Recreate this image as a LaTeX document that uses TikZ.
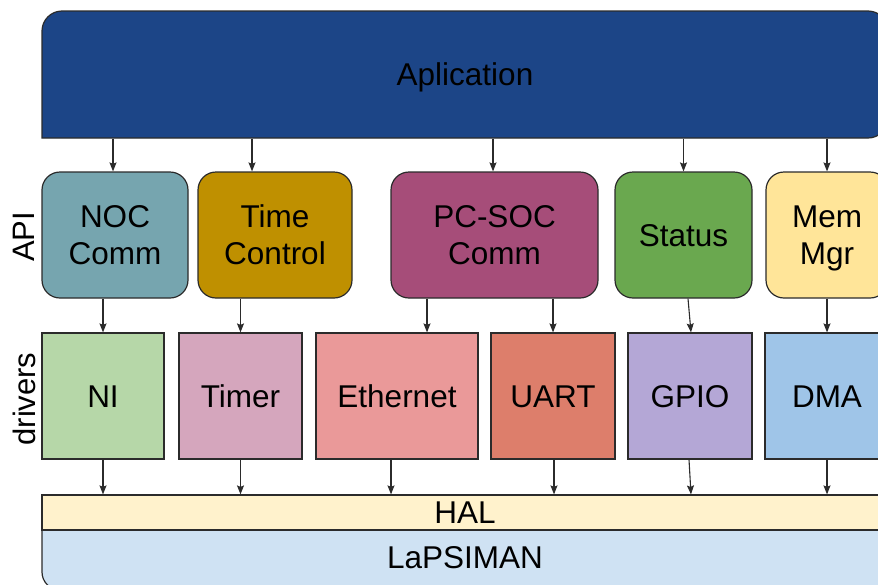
\documentclass[tikz,border=0pt]{standalone}
\usepackage{fontspec}
\setmainfont{Liberation Sans}
\usetikzlibrary{arrows.meta,calc}

\definecolor{edge}{HTML}{2B2B2B}
\definecolor{appc}{HTML}{1C4587}
\definecolor{nocc}{HTML}{76A5AF}
\definecolor{timec}{HTML}{BF9000}
\definecolor{pcsocc}{HTML}{A64D79}
\definecolor{statusc}{HTML}{6AA84F}
\definecolor{memc}{HTML}{FFE599}
\definecolor{nic}{HTML}{B6D7A8}
\definecolor{timerc}{HTML}{D5A6BD}
\definecolor{ethc}{HTML}{EA9999}
\definecolor{uartc}{HTML}{DD7E6B}
\definecolor{gpioc}{HTML}{B4A7D6}
\definecolor{dmac}{HTML}{9FC5E8}
\definecolor{halc}{HTML}{FFF2CC}
\definecolor{lapc}{HTML}{CFE2F3}

\begin{document}
\begin{tikzpicture}[x=1pt,y=-1pt,
  % caps are centred in each box: box height = cap height, no depth
  layer/.style={draw=edge,line width=1.2pt,inner sep=0pt,align=center,
    font=\fontsize{31.5}{37}\selectfont,text=black,
    text height=22.5pt,text depth=0pt},
  % two lines: from the first line's cap top to the last baseline
  twoline/.style={text height=59.5pt,text depth=0pt},
  apibox/.style={layer,rounded corners=18pt,minimum height=126pt},
  drvbox/.style={layer,minimum height=126pt},
  sidelabel/.style={font=\fontsize{31}{36}\selectfont,rotate=90,inner sep=0pt},
  arr/.style={draw=edge,line width=1.1pt,-{Stealth[length=9pt,width=7pt,inset=1.5pt]}}
]
\useasboundingbox (0,0) rectangle (878,584);
\clip (0,0) rectangle (878,584);

% application layer: square lower-left corner, the others rounded
\filldraw[fill=appc,draw=edge,line width=1.2pt]
  (42,138) -- (42,31) arc[start angle=180,end angle=270,radius=20]
  -- (868,11) arc[start angle=270,end angle=360,radius=20]
  -- (888,118) arc[start angle=0,end angle=90,radius=20] -- cycle;
\node[layer,draw=none,minimum width=846pt,minimum height=127pt] (app) at (465,74.5) {Aplication};

% API layer
\node[apibox,twoline,fill=nocc,minimum width=146pt]    (noc)     at (115,235)   {NOC\\Comm};
\node[apibox,twoline,fill=timec,minimum width=154pt]   (timectl) at (275,235)   {Time\\Control};
\node[apibox,twoline,fill=pcsocc,minimum width=207pt]  (pcsoc)   at (494.5,235) {PC-SOC\\Comm};
\node[apibox,fill=statusc,minimum width=137pt]         (status)  at (683.5,235) {Status};
\node[apibox,twoline,fill=memc,minimum width=122pt]    (memmgr)  at (827,235)   {Mem\\Mgr};

% drivers layer
\node[drvbox,fill=nic,minimum width=122pt]    (ni)    at (103,396)   {NI};
\node[drvbox,fill=timerc,minimum width=123pt] (timer) at (240.5,396) {Timer};
\node[drvbox,fill=ethc,minimum width=162pt]   (eth)   at (397,396)   {Ethernet};
\node[drvbox,fill=uartc,minimum width=124pt]  (uart)  at (553,396)   {UART};
\node[drvbox,fill=gpioc,minimum width=124pt]  (gpio)  at (690,396)   {GPIO};
\node[drvbox,fill=dmac,minimum width=124pt]   (dma)   at (827,396)   {DMA};

% platform: LaPSIMAN base with the HAL strip on top
\filldraw[fill=lapc,draw=edge,line width=1.2pt]
  (42,530) -- (42,572) arc[start angle=180,end angle=90,radius=18]
  -- (870,590) arc[start angle=90,end angle=0,radius=18] -- (888,530) -- cycle;
\node[layer,draw=none,minimum width=846pt,minimum height=54pt] (lap) at (465,557) {LaPSIMAN};
\node[layer,fill=halc,minimum width=846pt,minimum height=35pt] (hal) at (465,512.5) {HAL};

% side labels
\node[sidelabel] (apilbl) at (24,237) {API};
\node[sidelabel] (drvlbl) at (24,399) {drivers};

% application -> API
\coordinate (a1) at ($(noc.north)+(-2,0)$);
\coordinate (a2) at ($(timectl.north)+(-23,0)$);
\coordinate (a3) at ($(pcsoc.north)+(-1.5,0)$);
\draw[arr] (a1 |- app.south) -- (a1);
\draw[arr] (a2 |- app.south) -- (a2);
\draw[arr] (a3 |- app.south) -- (a3);
\draw[arr] (status.north |- app.south) -- (status.north);
\draw[arr] (memmgr.north |- app.south) -- (memmgr.north);

% API -> drivers
\coordinate (b1) at ($(eth.north)+(30,0)$);
\draw[arr] (ni.north |- noc.south) -- (ni.north);
\draw[arr] (timer.north |- timectl.south) -- (timer.north);
\draw[arr] (b1 |- pcsoc.south) -- (b1);
\draw[arr] (uart.north |- pcsoc.south) -- (uart.north);
\draw[arr] ($(status.south)+(4.5,0)$) -- ($(gpio.north)+(1,0)$);
\draw[arr] (dma.north |- memmgr.south) -- (dma.north);

% drivers -> HAL
\coordinate (c1) at ($(eth.south)+(-6,0)$);
\draw[arr] (ni.south) -- (ni.south |- hal.north);
\draw[arr] (timer.south) -- (timer.south |- hal.north);
\draw[arr] (c1) -- (c1 |- hal.north);
\draw[arr] ($(uart.south)+(1,0)$) -- ($(uart.south |- hal.north)+(1,0)$);
\draw[arr] ($(gpio.south)+(-1,0)$) -- ($(gpio.south |- hal.north)+(1,0)$);
\draw[arr] (dma.south) -- (dma.south |- hal.north);
\end{tikzpicture}
\end{document}
